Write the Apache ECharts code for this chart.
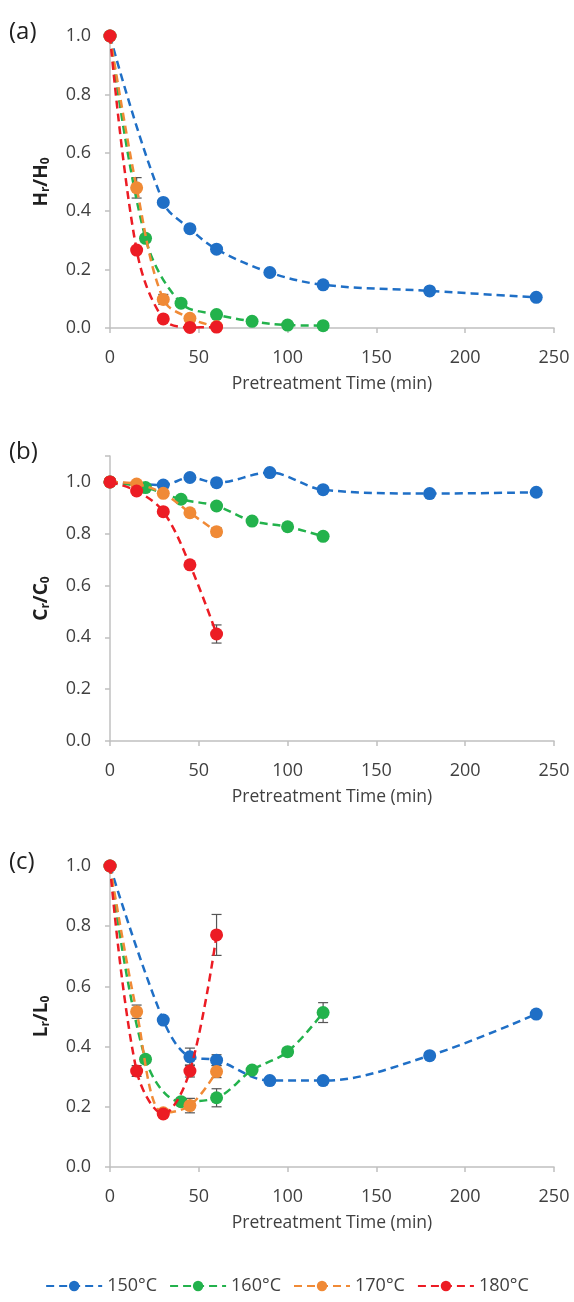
<!DOCTYPE html>
<html><head><meta charset="utf-8">
<script src="https://cdn.jsdelivr.net/npm/echarts@6/dist/echarts.min.js"></script>
<style>html,body{margin:0;padding:0;background:#fff}#c{width:574px;height:1302px}</style>
</head><body><div id="c"></div>
<script>
// Temperatures (legend)
const seriesNames = ['150°C','160°C','170°C','180°C'];
const colors = ['#1f6fc6','#23b24c','#f08a36','#ec1c24'];

// Pretreatment times (min)
const xBlue   = [0,30,45,60,90,120,180,240];
const xGreen  = [0,20,40,60,80,100,120];
const xOrange = [0,15,30,45,60];
const xRed    = [0,15,30,45,60];

// (a) Hr/H0
const hBlue   = [1.0,0.43,0.34,0.27,0.19,0.148,0.127,0.105];
const hGreen  = [1.0,0.307,0.085,0.046,0.023,0.01,0.008];
const hOrange = [1.0,0.48,0.098,0.033,0.005];
const hRed    = [1.0,0.267,0.031,0.002,0.003];
const hErrBlue   = [0,0.01,0.008,0.008,0.006,0.005,0.005,0.004];
const hErrGreen  = [0,0.012,0.008,0.005,0.004,0.003,0.003];
const hErrOrange = [0,0.035,0.017,0.006,0.002];
const hErrRed    = [0,0.01,0.006,0.002,0.002];

// (b) Cr/C0
const cBlue   = [1.0,0.988,1.017,0.997,1.036,0.97,0.955,0.96];
const cGreen  = [1.0,0.978,0.933,0.907,0.849,0.827,0.79];
const cOrange = [1.0,0.992,0.956,0.881,0.808];
const cRed    = [1.0,0.965,0.885,0.68,0.413];
const cErrBlue   = [0,0.008,0.01,0.008,0.008,0.008,0.008,0.008];
const cErrGreen  = [0,0.008,0.008,0.012,0.008,0.01,0.012];
const cErrOrange = [0,0.008,0.01,0.01,0.015];
const cErrRed    = [0,0.008,0.01,0.01,0.035];

// (c) Lr/L0
const lBlue   = [1.0,0.488,0.366,0.355,0.287,0.287,0.37,0.508];
const lGreen  = [1.0,0.358,0.217,0.23,0.322,0.383,0.513];
const lOrange = [1.0,0.516,0.18,0.204,0.317];
const lRed    = [1.0,0.319,0.176,0.319,0.771];
const lErrBlue   = [0,0.01,0.029,0.018,0.01,0.01,0.01,0.01];
const lErrGreen  = [0,0.012,0.01,0.03,0.01,0.012,0.033];
const lErrOrange = [0,0.022,0.01,0.024,0.02];
const lErrRed    = [0,0.018,0.01,0.02,0.068];

// Axis ticks
const xTicks = [0,50,100,150,200,250];
const panelLabels = ['(a)','(b)','(c)'];
const yNames = [['H','r','H','0'],['C','r','C','0'],['L','r','L','0']];
const yMax = [1.0,1.1,1.0];

const xs = [xBlue,xGreen,xOrange,xRed];
const panels = [
  {vals:[hBlue,hGreen,hOrange,hRed], errs:[hErrBlue,hErrGreen,hErrOrange,hErrRed]},
  {vals:[cBlue,cGreen,cOrange,cRed], errs:[cErrBlue,cErrGreen,cErrOrange,cErrRed]},
  {vals:[lBlue,lGreen,lOrange,lRed], errs:[lErrBlue,lErrGreen,lErrOrange,lErrRed]}
];

const FONT = 'Open Sans';
const grids = [
  {left:110, right:20, top:36, height:292},
  {left:110, right:20, top:456, height:285},
  {left:110, right:20, top:866, height:301}
];

const xAxes = [], yAxes = [], series = [], graphics = [];
grids.forEach((g,i)=>{
  xAxes.push({
    type:'value', gridIndex:i, min:0, max:250, interval:50,
    name:'Pretreatment Time (min)', nameLocation:'middle', nameGap:47,
    nameTextStyle:{fontFamily:FONT, fontSize:17.5, color:'#404040'},
    axisLine:{show:true, lineStyle:{color:'#c0c0c0', width:1.5}},
    axisTick:{show:true, length:5, lineStyle:{color:'#c0c0c0', width:1.5}},
    axisLabel:{fontFamily:FONT, fontSize:18, color:'#404040', margin:21},
    splitLine:{show:false}
  });
  const n = yNames[i];
  yAxes.push({
    type:'value', gridIndex:i, min:0, max:yMax[i], interval:0.2,
    name:'{b|'+n[0]+'}{s|'+n[1]+'}{b|/'+n[2]+'}{s|'+n[3]+'}',
    nameLocation:'middle', nameRotate:90, nameGap:58,
    nameTextStyle:{rich:{
      b:{fontFamily:FONT, fontSize:19, fontWeight:'bold', color:'#202020'},
      s:{fontFamily:FONT, fontSize:12, fontWeight:'bold', color:'#202020', padding:[9,0,0,0]}
    }},
    axisLine:{show:true, onZero:false, lineStyle:{color:'#c0c0c0', width:1.5}},
    axisTick:{show:true, length:5, lineStyle:{color:'#c0c0c0', width:1.5}},
    axisLabel:{fontFamily:FONT, fontSize:18, color:'#404040', margin:19,
      formatter:v=> (v>yMax[i]+1e-9 || Math.abs(v-1.1)<1e-9) ? '' : v.toFixed(1)},
    splitLine:{show:false}
  });
  graphics.push({type:'text', left:9, top:g.top-16,
    style:{text:panelLabels[i], font:'24px "'+FONT+'"', fill:'#202020'}});
  // error bars
  const errData = [];
  panels[i].vals.forEach((vals,s)=>{
    vals.forEach((v,k)=>{
      const e = panels[i].errs[s][k];
      if (e>0) errData.push([xs[s][k], v-e, v+e]);
    });
  });
  series.push({
    type:'custom', xAxisIndex:i, yAxisIndex:i, silent:true, z:1,
    data: errData,
    renderItem:(params, api)=>{
      const x = api.value(0);
      const p1 = api.coord([x, api.value(1)]);
      const p2 = api.coord([x, api.value(2)]);
      const w = 5;
      const st = {stroke:'#555', lineWidth:1.2};
      return {type:'group', children:[
        {type:'line', shape:{x1:p1[0],y1:p1[1],x2:p2[0],y2:p2[1]}, style:st},
        {type:'line', shape:{x1:p1[0]-w,y1:p1[1],x2:p1[0]+w,y2:p1[1]}, style:st},
        {type:'line', shape:{x1:p2[0]-w,y1:p2[1],x2:p2[0]+w,y2:p2[1]}, style:st}
      ]};
    }
  });
  panels[i].vals.forEach((vals,s)=>{
    series.push({
      type:'line', name:seriesNames[s], xAxisIndex:i, yAxisIndex:i,
      data: vals.map((v,k)=>[xs[s][k], v]),
      smooth:0.35, symbol:'circle', symbolSize:13, z:2+s,
      itemStyle:{color:colors[s]},
      lineStyle:{color:colors[s], width:2.5, type:[8,5]}
    });
  });
});

const chart = echarts.init(document.getElementById('c'), null, {renderer:'canvas'});
chart.setOption({
  animation:false,
  backgroundColor:'#fff',
  grid:grids,
  xAxis:xAxes, yAxis:yAxes, series:series,
  graphic:graphics,
  legend:{
    data:seriesNames, top:1272, left:'center', itemGap:12, itemWidth:56, itemHeight:13,
    textStyle:{fontFamily:FONT, fontSize:18, color:'#404040'}
  }
});
</script></body></html>
